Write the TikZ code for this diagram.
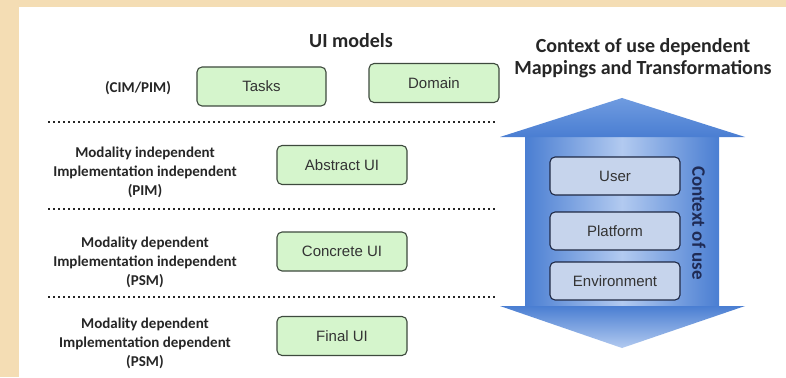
\documentclass[tikz,border=0pt]{standalone}
\usepackage{fontspec}
\setmainfont{Carlito}
\newfontfamily\arialf{Liberation Sans}
\definecolor{bgbeige}{HTML}{F4DDB4}
\definecolor{greenfill}{HTML}{D5F5CC}
\definecolor{greenedge}{HTML}{3E4A3E}
\definecolor{bluefill}{HTML}{C6D4EC}
\definecolor{blueedge}{HTML}{1E2844}
\definecolor{arrowdark}{HTML}{4A7ED2}
\definecolor{arrowmid}{HTML}{6F9BE0}
\definecolor{arrowlight}{HTML}{B2CAF0}
\definecolor{navytext}{HTML}{1F2B55}
\definecolor{boxtext}{HTML}{333333}
\tikzset{
  greenbox/.style={draw=greenedge, fill=greenfill, rounded corners=5pt, line width=1.1pt,
    minimum width=130pt, minimum height=39pt, inner sep=0pt,
    font=\arialf\fontsize{15}{18}\selectfont, text=boxtext},
  bluebox/.style={draw=blueedge, fill=bluefill, rounded corners=5pt, line width=1.1pt,
    minimum width=130pt, minimum height=38pt, inner sep=0pt,
    font=\arialf\fontsize{15}{18}\selectfont, text=boxtext},
  leftlabel/.style={align=center, font=\bfseries\fontsize{15}{19}\selectfont, text=black!85, inner sep=0pt},
  titletext/.style={align=center, font=\bfseries\fontsize{20}{22}\selectfont, text=black!85, inner sep=0pt},
  sepline/.style={line width=2.4pt, dash pattern=on 2pt off 3pt, draw=black!85}
}
\begin{document}
\begin{tikzpicture}[x=1pt, y=-1pt]
\useasboundingbox (0,0) rectangle (786,377);
% background
\fill[bgbeige] (0,0) rectangle (786,377);
\fill[white] (19,7) rectangle (786,377);

% titles
\node[titletext] (uititle) at (351,41) {UI models};
\node[titletext] (ctxtitle) at (643,58) {Context of use dependent\\Mappings and Transformations};

% left labels
\node[leftlabel] (cimpim) at (138,88) {(CIM/PIM)};
\node[leftlabel] (lab2) at (145,172) {Modality independent\\Implementation independent\\(PIM)};
\node[leftlabel] (lab3) at (145,262) {Modality dependent\\Implementation independent\\(PSM)};
\node[leftlabel] (lab4) at (145,343.5) {Modality dependent\\Implementation dependent\\(PSM)};

% separators
\draw[sepline] (48,122) -- (497,122);
\draw[sepline] (48,209) -- (497,209);
\draw[sepline] (48,297) -- (497,297);

% green boxes
\node[greenbox, minimum width=129pt] (tasks) at (261.5,86.5) {Tasks};
\node[greenbox] (domain) at (434,83) {Domain};
\node[greenbox] (abstract) at (342,165) {Abstract UI};
\node[greenbox] (concrete) at (342,251.5) {Concrete UI};
\node[greenbox] (final) at (342,336) {Final UI};

% double arrow
\shade[left color=arrowdark, right color=arrowdark, middle color=arrowlight]
  (525,137) rectangle (719,306);
\shade[top color=arrowmid, bottom color=arrowdark]
  (622,98) -- (745,137) -- (500,137) -- cycle;
\shade[top color=arrowdark, bottom color=arrowlight]
  (500,306) -- (745,306) -- (622,348) -- cycle;

% context boxes
\node[bluebox] (user) at (615,176) {User};
\node[bluebox] (platform) at (615,231) {Platform};
\node[bluebox] (environment) at (615,281) {Environment};

\node[font=\bfseries\fontsize{19}{22}\selectfont, text=navytext, rotate=-90, inner sep=0pt] (ctxuse) at (699,223) {Context of use};
\end{tikzpicture}
\end{document}
